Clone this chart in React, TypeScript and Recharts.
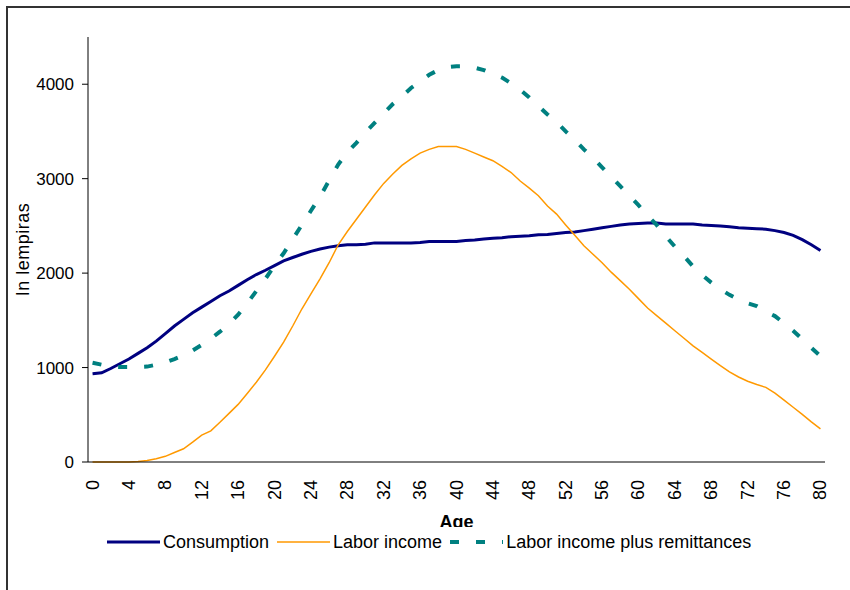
import { LineChart, Line, XAxis, YAxis, Legend, Label } from "recharts";

const ages = Array.from({ length: 81 }, (_, i) => i);
const ageTicks = [0, 4, 8, 12, 16, 20, 24, 28, 32, 36, 40, 44, 48, 52, 56, 60, 64, 68, 72, 76, 80];
const ageBounds = Array.from({ length: 82 }, (_, i) => i - 0.5);
const yTicks = [0, 1000, 2000, 3000, 4000];

const consumption = [
  935, 945, 990, 1040, 1090, 1150, 1210, 1280, 1360, 1440,
  1510, 1580, 1640, 1700, 1760, 1810, 1870, 1930, 1985, 2030,
  2080, 2130, 2165, 2200, 2230, 2255, 2275, 2290, 2300, 2300,
  2305, 2320, 2320, 2320, 2320, 2320, 2325, 2335, 2335, 2335,
  2335, 2345, 2350, 2360, 2370, 2375, 2385, 2390, 2395, 2405,
  2410, 2420, 2430, 2435, 2450, 2465, 2480, 2495, 2510, 2520,
  2525, 2530, 2530, 2520, 2520, 2520, 2520, 2510, 2505, 2500,
  2490, 2480, 2475, 2470, 2465, 2450, 2430, 2400, 2355, 2300,
  2240,
];

const laborIncome = [
  0, 0, 0, 0, 0, 5, 15, 35, 60, 100,
  140, 210, 285, 330, 420, 515, 610, 725, 845, 975,
  1120, 1270, 1440, 1620, 1780, 1940, 2110, 2300, 2440, 2570,
  2700, 2830, 2950, 3050, 3140, 3210, 3270, 3310, 3340, 3340,
  3340, 3310, 3270, 3230, 3190, 3130, 3065, 2975, 2900, 2820,
  2710, 2625, 2510, 2400, 2290, 2200, 2110, 2010, 1920, 1830,
  1730, 1630, 1550, 1470, 1390, 1310, 1230, 1160, 1090, 1020,
  955, 900, 855, 820, 790, 730, 655, 580, 505, 425,
  350,
];

const laborPlusRemittances = [
  1050, 1030, 1010, 1005, 1005, 1005, 1010, 1030, 1055, 1090,
  1130, 1180, 1240, 1305, 1380, 1460, 1560, 1680, 1810, 1940,
  2080, 2210, 2360, 2510, 2660, 2810, 2980, 3150, 3280, 3380,
  3490, 3590, 3690, 3790, 3870, 3960, 4030, 4100, 4150, 4180,
  4190, 4190, 4175, 4150, 4110, 4070, 4010, 3940, 3860, 3770,
  3680, 3600, 3500, 3410, 3310, 3220, 3120, 3020, 2920, 2820,
  2720, 2610, 2510, 2390, 2280, 2180, 2070, 1980, 1900, 1830,
  1770, 1720, 1680, 1650, 1590, 1545, 1470, 1390, 1300, 1210,
  1120,
];

const data = ages.map((age, i) => ({
  age,
  consumption: consumption[i],
  labor: laborIncome[i],
  remit: laborPlusRemittances[i],
}));

const FONT = '"Liberation Sans", Arial, sans-serif';
const NAVY = "#000080";
const ORANGE = "#FF9900";
const TEAL = "#008080";
const DASH = "9 17";

const series = [
  { key: "consumption", name: "Consumption", color: NAVY, width: 3, dash: undefined },
  { key: "labor", name: "Labor income", color: ORANGE, width: 1.5, dash: undefined },
  { key: "remit", name: "Labor income plus remittances", color: TEAL, width: 4, dash: DASH },
];

const AgeTick = (props: any) => {
  const { x, y, payload } = props;
  return (
    <text
      x={x}
      y={y}
      transform={`rotate(-90, ${x}, ${y})`}
      textAnchor="end"
      dominantBaseline="central"
      style={{ fontSize: "18px", fontFamily: FONT, fill: "#000" }}
    >
      {payload.value}
    </text>
  );
};

const LegendBox = () => (
  <div
    style={{
      display: "flex",
      alignItems: "center",
      height: 30,
      paddingLeft: 99,
      fontFamily: FONT,
      fontSize: 18,
      color: "#000",
      background: "#fff",
    }}
  >
    {series.map((s) => (
      <div key={s.key} style={{ display: "flex", alignItems: "center", marginRight: 8 }}>
        <svg width={53} height={10} style={{ marginRight: 3 }}>
          <line
            x1={0}
            y1={5}
            x2={53}
            y2={5}
            stroke={s.color}
            strokeWidth={s.width}
            strokeDasharray={s.dash}
          />
        </svg>
        <span>{s.name}</span>
      </div>
    ))}
  </div>
);

export default function App() {
  return (
    <div
      style={{
        position: "absolute",
        left: 0,
        top: 0,
        width: 850,
        height: 590,
        overflow: "hidden",
        background: "#fff",
      }}
    >
      <div
        style={{
          position: "absolute",
          left: 6,
          top: 6,
          width: 844,
          height: 584,
          borderTop: "2px solid #333",
          borderLeft: "2px solid #333",
          boxSizing: "border-box",
        }}
      />
      <div style={{ position: "absolute", left: 0, top: 0 }}>
        <LineChart
          width={850}
          height={590}
          data={data}
          margin={{ top: 37, right: 25, bottom: 77, left: 0 }}
        >
          <XAxis
            dataKey="age"
            type="number"
            domain={[-0.5, 80.5]}
            ticks={ageBounds}
            interval={0}
            height={1}
            tick={false}
            tickSize={6}
            tickLine={{ stroke: "#000" }}
            axisLine={{ stroke: "#000" }}
          />
          <XAxis
            xAxisId="labels"
            dataKey="age"
            type="number"
            domain={[-0.5, 80.5]}
            ticks={ageTicks}
            interval={0}
            height={50}
            tickSize={6}
            tickMargin={11}
            tickLine={false}
            axisLine={false}
            tick={<AgeTick />}
          >
            <Label
              value="Age"
              position="bottom"
              offset={2}
              style={{ fontFamily: FONT, fontSize: 18, fontWeight: "bold", fill: "#000" }}
            />
          </XAxis>
          <YAxis
            width={88}
            domain={[0, 4500]}
            ticks={yTicks}
            interval={0}
            tickSize={6}
            tickMargin={8}
            tick={{ fontSize: 17, fontFamily: FONT, fill: "#000" }}
            tickLine={{ stroke: "#000" }}
            axisLine={{ stroke: "#000" }}
          >
            <Label
              content={(p: any) => {
                const vb = p.viewBox;
                const cy = vb.y + vb.height / 2;
                return (
                  <text
                    x={23}
                    y={cy}
                    transform={`rotate(-90, 23, ${cy})`}
                    textAnchor="middle"
                    dominantBaseline="central"
                    fontSize={18}
                    fontFamily={FONT}
                    letterSpacing={0.5}
                    fill="#000"
                  >
                    In lempiras
                  </text>
                );
              }}
            />
          </YAxis>
          {series.map((s) => (
            <Line
              key={s.key}
              type="linear"
              dataKey={s.key}
              name={s.name}
              stroke={s.color}
              strokeWidth={s.width}
              strokeDasharray={s.dash}
              dot={false}
              activeDot={false}
              isAnimationActive={false}
            />
          ))}
          <Legend
            layout="horizontal"
            verticalAlign="middle"
            align="center"
            content={() => <LegendBox />}
            wrapperStyle={{ top: 527, left: 8, width: 842, height: 30 }}
          />
        </LineChart>
      </div>
    </div>
  );
}
